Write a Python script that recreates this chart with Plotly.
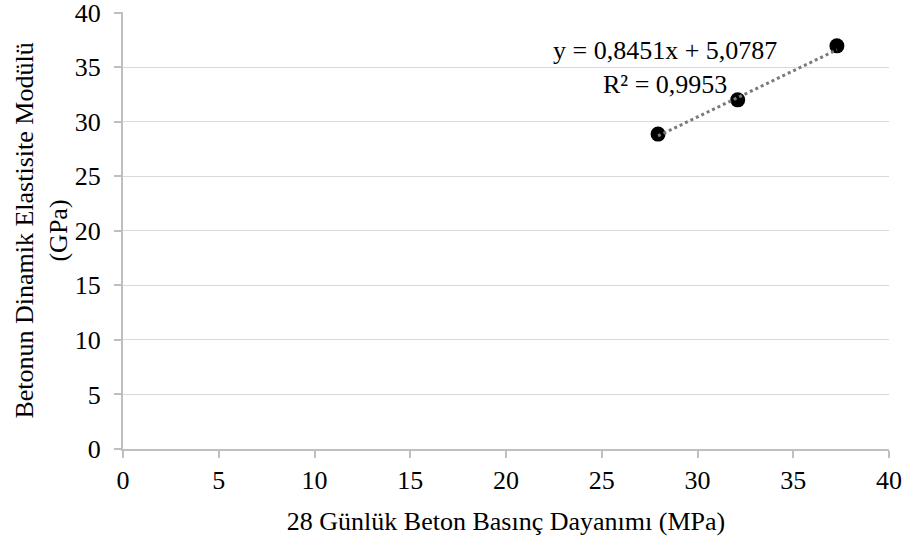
import plotly.graph_objects as go

# Data
compressive_strength = [27.94, 32.10, 37.28]   # MPa (x)
dynamic_modulus = [28.86, 32.00, 36.95]         # GPa (y)

# Linear trendline shown on the chart
slope = 0.8451
intercept = 5.0787
r_squared = 0.9953

x_ticks = [0, 5, 10, 15, 20, 25, 30, 35, 40]
y_ticks = [0, 5, 10, 15, 20, 25, 30, 35, 40]

FONT = "Liberation Serif, Times New Roman, serif"

trend_x = [min(compressive_strength), max(compressive_strength)]
trend_y = [slope * v + intercept for v in trend_x]

fig = go.Figure()
fig.add_trace(go.Scatter(
    x=compressive_strength, y=dynamic_modulus, mode="markers",
    marker=dict(color="black", size=15, line=dict(width=0)),
    showlegend=False, hoverinfo="x+y"))
fig.add_trace(go.Scatter(
    x=trend_x, y=trend_y, mode="lines",
    line=dict(color="#7a7a7a", width=3, dash="dot"),
    showlegend=False, hoverinfo="skip"))

eq_text = ("y = " + f"{slope:.4f}".replace(".", ",") + "x + "
           + f"{intercept:.4f}".replace(".", ",")
           + "<br>R² = " + f"{r_squared:.4f}".replace(".", ","))
fig.add_annotation(
    x=0.707, y=34.98, xref="paper", yref="y",
    text=eq_text, showarrow=False, align="center",
    font=dict(family=FONT, size=26, color="black"),
    xanchor="center", yanchor="middle")

fig.update_layout(
    width=908, height=541,
    margin=dict(l=123, r=18.5, t=12.2, b=91.7),
    paper_bgcolor="white", plot_bgcolor="white",
    font=dict(family=FONT, size=26, color="black"),
)
fig.update_xaxes(
    range=[0, 40], tickvals=x_ticks, ticktext=[str(v) for v in x_ticks],
    showgrid=False, zeroline=False,
    showline=True, linecolor="#bfbfbf", linewidth=2,
    ticks="outside", ticklen=7, tickcolor="#bfbfbf", tickwidth=2,
    tickfont=dict(family=FONT, size=26, color="black"),
    ticklabeloverflow="allow",
    title=dict(text="28 Günlük Beton Basınç Dayanımı (MPa)",
               font=dict(family=FONT, size=26, color="black"), standoff=18),
    automargin=False,
)
fig.update_yaxes(
    range=[0, 40.05], tickvals=y_ticks, ticktext=[str(v) for v in y_ticks],
    showgrid=True, gridcolor="#d9d9d9", gridwidth=1.3, zeroline=False,
    showline=True, linecolor="#bfbfbf", linewidth=2,
    ticks="outside", ticklen=7, tickcolor="#bfbfbf", tickwidth=2,
    tickfont=dict(family=FONT, size=26, color="black"),
    ticklabeloverflow="allow", ticklabelstandoff=8,
    title=dict(text="Betonun Dinamik Elastisite Modülü<br>(GPa)",
               font=dict(family=FONT, size=26, color="black"), standoff=0),
    automargin=False,
)

fig.write_html("out.html",
               config={"displayModeBar": False},
               post_script="document.body.style.margin='0';"
                           "document.body.style.overflow='hidden';")
